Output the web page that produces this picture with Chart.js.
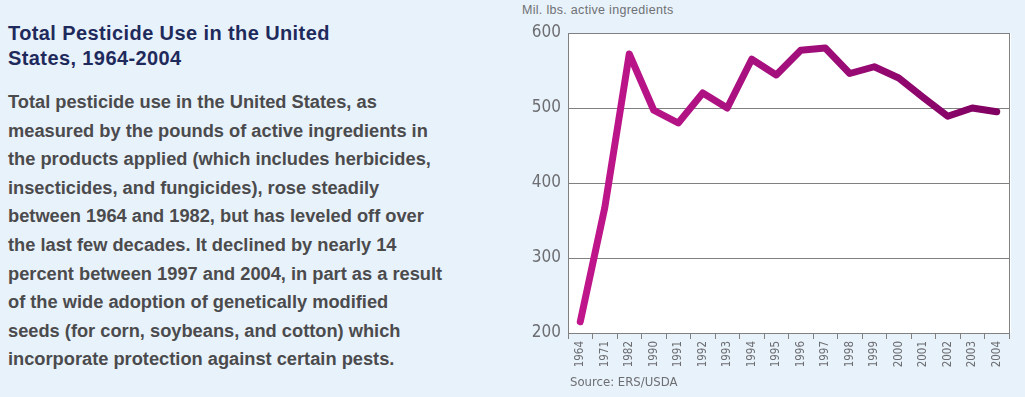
<!DOCTYPE html>
<html>
<head>
<meta charset="utf-8">
<script src="https://cdn.jsdelivr.net/npm/chart.js@4.4.1/dist/chart.umd.min.js"></script>
<style>
  html, body { margin: 0; padding: 0; }
  body { width: 1025px; height: 397px; background: #E8F2FB; position: relative; overflow: hidden; font-family: "Liberation Sans", Arial, sans-serif; }
  #title { position: absolute; left: 8px; top: 21px; font-weight: bold; font-size: 20px; letter-spacing: 0.4px; line-height: 25px; color: #1F2A5C; white-space: nowrap; }
  #body { position: absolute; left: 8px; top: 88px; font-weight: bold; font-size: 18.25px; line-height: 28.6px; color: #4B4B4D; white-space: nowrap; }
  #unit { position: absolute; left: 522px; top: 3px; font-size: 12.5px; letter-spacing: 0.3px; color: #6F7073; white-space: nowrap; }
  #source { position: absolute; left: 570px; top: 374px; font-family: "Liberation Sans Narrow", "DejaVu Sans Condensed", sans-serif; font-size: 13px; color: #6D6E71; white-space: nowrap; }
  #wrap { position: absolute; left: 500px; top: 0; width: 525px; height: 397px; }
</style>
</head>
<body>
<div id="title">Total Pesticide Use in the United<br>States, 1964-2004</div>
<div id="body">Total pesticide use in the United States, as<br>measured by the pounds of active ingredients in<br>the products applied (which includes herbicides,<br>insecticides, and fungicides), rose steadily<br>between 1964 and 1982, but has leveled off over<br>the last few decades. It declined by nearly 14<br>percent between 1997 and 2004, in part as a result<br>of the wide adoption of genetically modified<br>seeds (for corn, soybeans, and cotton) which<br>incorporate protection against certain pests.</div>
<div id="unit">Mil. lbs. active ingredients</div>
<div id="wrap"><canvas id="c" width="525" height="397"></canvas></div>
<div id="source">Source: ERS/USDA</div>
<script>
const years = ['1964','1971','1982','1990','1991','1992','1993','1994','1995','1996','1997','1998','1999','2000','2001','2002','2003','2004'];
const pesticideUse = [215, 367, 572, 497, 480, 520, 500, 565, 544, 577, 580, 546, 555, 540, 514, 489, 500, 495];
const yTicks = [200, 300, 400, 500, 600];

const plotBg = {
  id: 'plotBg',
  beforeDraw(chart) {
    const a = chart.chartArea, ctx = chart.ctx;
    ctx.save();
    ctx.fillStyle = '#FFFFFF';
    ctx.fillRect(a.left, a.top, a.right - a.left + 2, a.bottom - a.top);
    ctx.restore();
  },
  afterDraw(chart) {
    const a = chart.chartArea, ctx = chart.ctx;
    ctx.save();
    ctx.strokeStyle = '#808080';
    ctx.lineWidth = 1;
    ctx.beginPath();
    ctx.moveTo(Math.round(a.right) + 0.5, a.top);
    ctx.lineTo(Math.round(a.right) + 0.5, a.bottom);
    ctx.stroke();
    ctx.restore();
  }
};

function lineGradient(context) {
  const chart = context.chart;
  const a = chart.chartArea;
  if (!a) return '#B01484';
  const g = chart.ctx.createLinearGradient(a.left, 0, a.right, 0);
  g.addColorStop(0, '#C2168C');
  g.addColorStop(0.5, '#A30F7C');
  g.addColorStop(1, '#7E0060');
  return g;
}

const tickFont = '"Liberation Sans Narrow", "DejaVu Sans Condensed", sans-serif';

new Chart(document.getElementById('c'), {
  type: 'line',
  data: {
    labels: years,
    datasets: [{
      data: pesticideUse,
      borderColor: lineGradient,
      borderWidth: 7,
      borderJoinStyle: 'round',
      borderCapStyle: 'round',
      pointRadius: 0,
      tension: 0,
      fill: false
    }]
  },
  options: {
    responsive: false,
    animation: false,
    devicePixelRatio: 1,
    layout: { padding: { top: 33, right: 16, bottom: 0, left: 0 } },
    plugins: { legend: { display: false }, tooltip: { enabled: false } },
    scales: {
      x: {
        type: 'category',
        offset: true,
        grid: { offset: true, drawOnChartArea: false, drawTicks: true, tickLength: 6, color: '#808080' },
        border: { color: '#808080', width: 1 },
        ticks: {
          maxRotation: 90, minRotation: 90, autoSkip: false, padding: 2,
          color: '#6D6E71',
          font: { family: tickFont, size: 11.5 }
        },
        afterFit(scale) { scale.height = 64; }
      },
      y: {
        min: 200, max: 600,
        afterBuildTicks(scale) { scale.ticks = yTicks.map(v => ({ value: v })); },
        grid: { drawTicks: false, color: '#808080' },
        border: { color: '#808080', width: 1 },
        ticks: {
          padding: 7,
          color: '#6D6E71',
          font: { family: tickFont, size: 17 }
        },
        afterFit(scale) { scale.width = 68; }
      }
    }
  },
  plugins: [plotBg]
});
</script>
</body>
</html>
